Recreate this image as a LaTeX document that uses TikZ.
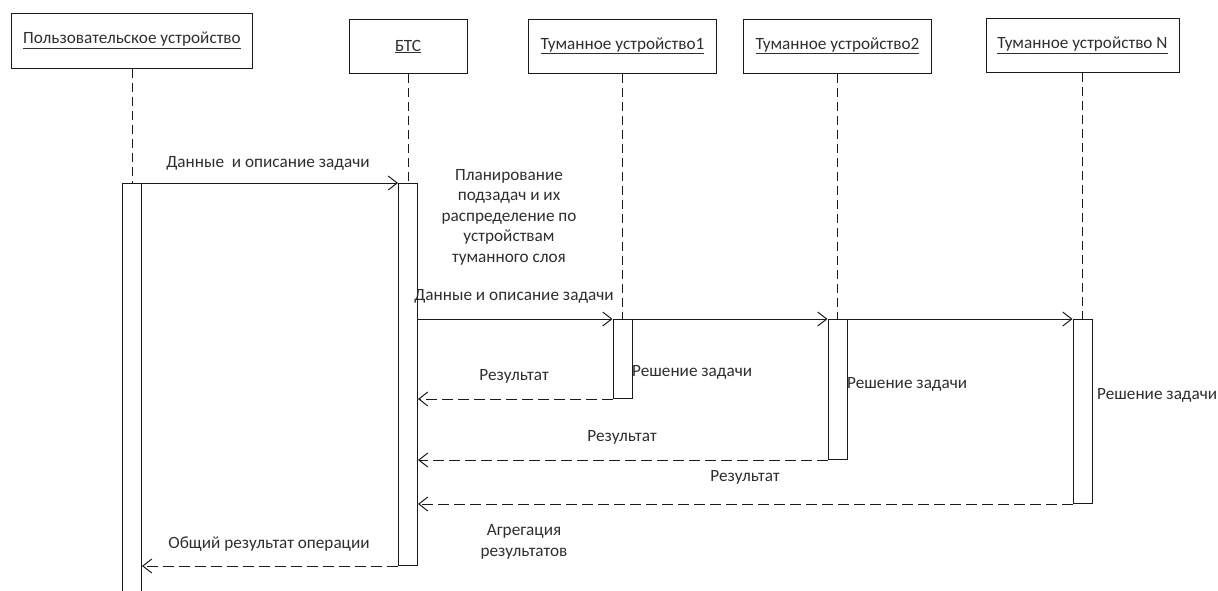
\documentclass[tikz,border=0pt]{standalone}
\usepackage{fontspec}
\setmainfont{Carlito}
\usetikzlibrary{arrows.meta}
\definecolor{ln}{HTML}{1A1A1A}
\definecolor{txt}{HTML}{2E2E2E}
\begin{document}
\begin{tikzpicture}[x=1pt,y=-1pt, font=\fontsize{17.2}{20}\selectfont, text=txt,
  head/.style={draw=ln, line width=1pt, minimum height=55pt, inner sep=0pt},
  bar/.style={draw=ln, line width=1pt, fill=white, minimum width=19pt, inner sep=0pt, anchor=north},
  life/.style={draw=ln, line width=1pt, dash pattern=on 9pt off 5pt},
  msg/.style={draw=ln, line width=1pt, -{Straight Barb[length=9pt,width=14pt]}},
  ret/.style={msg, dash pattern=on 11pt off 5pt},
  lbl/.style={inner sep=0pt, align=center}]
\useasboundingbox (0,0) rectangle (1218,590);
% header boxes
\node[head, minimum width=241pt] (U) at (132,40.5) {\underline{Пользовательское устройство}};
\node[head, minimum width=118pt, minimum height=54pt] (B) at (408,46.5) {\underline{БТС}};
\node[head, minimum width=188pt, minimum height=54pt] (F1) at (622.5,46) {\underline{Туманное устройство1}};
\node[head, minimum width=188pt, minimum height=54pt] (F2) at (837.5,46) {\underline{Туманное устройство2}};
\node[head, minimum width=193pt, minimum height=54pt] (FN) at (1082.5,45.5) {\underline{Туманное устройство N}};
% activation bars
\node[bar, minimum height=413pt] (ub) at (132,183) {};
\node[bar, minimum height=382pt] (bb) at (408,183) {};
\node[bar, minimum height=79pt] (f1b) at (622.5,319) {};
\node[bar, minimum height=140pt] (f2b) at (837.5,319) {};
\node[bar, minimum height=184pt] (fnb) at (1082.5,319) {};
% lifelines
\draw[life] (U.south) -- (ub.north);
\draw[life] (B.south) -- (bb.north);
\draw[life] (F1.south) -- (f1b.north);
\draw[life] (F2.south) -- (f2b.north);
\draw[life] (FN.south) -- (fnb.north);
% messages
\draw[msg] (ub.north east) -- (bb.north west);
\draw[msg] (bb.east |- f1b.north) -- (f1b.north west);
\draw[msg] (f1b.north east) -- (f2b.north west);
\draw[msg] (f2b.north east) -- (fnb.north west);
\draw[ret] (f1b.south west) -- (bb.east |- f1b.south);
\draw[ret] (f2b.south west) -- (bb.east |- f2b.south);
\draw[ret] (fnb.south west) -- (bb.east |- fnb.south);
\draw[ret] (bb.south west) -- (ub.east |- bb.south);
% labels
\node[lbl] (l1) at (268,163) {Данные\ \ и описание задачи};
\node[lbl, font=\fontsize{17.2}{20.5}\selectfont] (plan) at (509,217) {Планирование\\подзадач и их\\распределение по\\устройствам\\туманного слоя};
\node[lbl] (l2) at (514,296) {Данные и описание задачи};
\node[lbl] (r1) at (514,376) {Результат};
\node[lbl, anchor=west] (s1) at (632,372) {Решение задачи};
\node[lbl, anchor=west] (s2) at (847,384) {Решение задачи};
\node[lbl, anchor=west] (sn) at (1097,395) {Решение задачи};
\node[lbl] (r2) at (622,437) {Результат};
\node[lbl] (r3) at (745,477) {Результат};
\node[lbl] (r4) at (269,544) {Общий результат операции};
\node[lbl, font=\fontsize{17.2}{21.5}\selectfont] (agg) at (524,542) {Агрегация\\результатов};
\end{tikzpicture}
\end{document}
